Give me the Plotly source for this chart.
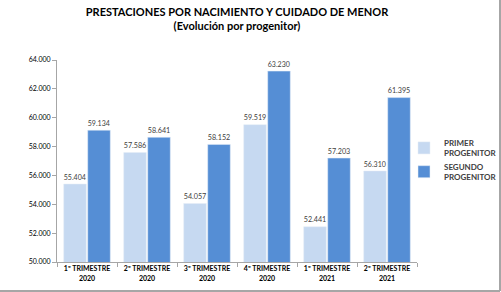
import plotly.graph_objects as go

categorias = ["1º TRIMESTRE<br>2020", "2º TRIMESTRE<br>2020", "3º TRIMESTRE<br>2020",
              "4º TRIMESTRE<br>2020", "1º TRIMESTRE<br>2021", "2º TRIMESTRE<br>2021"]
primer = [55404, 57586, 54057, 59519, 52441, 56310]
segundo = [59134, 58641, 58152, 63230, 57203, 61395]
y_ticks = [50000, 52000, 54000, 56000, 58000, 60000, 62000, 64000]

FONT = "Lato, 'Open Sans', sans-serif"
L, R, T, B = 57, 84, 60, 30
W, H = 501, 292
pw, ph = W - L - R, H - T - B

fig = go.Figure()
fig.add_trace(go.Bar(
    x=categorias, y=primer, name="<b>PRIMER<br>PROGENITOR</b>",
    marker_color="#c6d9f1", texttemplate="%{y:,d}", textposition="outside",
    textfont=dict(size=11, color="#404040", family=FONT), cliponaxis=False,
))
fig.add_trace(go.Bar(
    x=categorias, y=segundo, name="<b>SEGUNDO<br>PROGENITOR</b>",
    marker_color="#558ed5", texttemplate="%{y:,d}", textposition="outside",
    textfont=dict(size=11, color="#404040", family=FONT), cliponaxis=False,
))

fig.update_layout(
    width=W, height=H,
    margin=dict(l=L, r=R, t=T, b=B, autoexpand=False),
    paper_bgcolor="white", plot_bgcolor="white",
    separators=",.",
    barmode="group", bargap=0.2, bargroupgap=0.06,
    font=dict(family=FONT, color="#404040"),
    title=dict(
        text="<b>PRESTACIONES POR NACIMIENTO Y CUIDADO DE MENOR<br>(Evolución por progenitor)</b>",
        x=0.5, xref="paper", xanchor="center",
        yref="container", y=(H - 16) / H, yanchor="middle",
        font=dict(size=11, color="#000000", family=FONT),
    ),
    legend=dict(
        x=(404 - L) / pw, y=(T + ph - 160) / ph, xanchor="left", yanchor="middle",
        font=dict(size=8, color="#404040", family=FONT),
        itemwidth=30, tracegroupgap=3, bgcolor="rgba(0,0,0,0)",
    ),
    showlegend=True,
)

fig.update_xaxes(
    showline=True, linecolor="#a6a6a6", linewidth=1,
    ticks="outside", tickson="boundaries", ticklen=4, tickcolor="#a6a6a6",
    tickfont=dict(size=7, color="#000000", family=FONT),
    tickprefix="<b>", ticksuffix="</b>",
    showgrid=False,
)
fig.update_yaxes(
    range=[50000, 64000], tickvals=y_ticks, tickformat=",d",
    showline=True, linecolor="#a6a6a6", linewidth=1,
    ticks="outside", ticklen=4, tickcolor="#a6a6a6",
    tickfont=dict(size=7, color="#000000", family=FONT),
    tickprefix="<b>", ticksuffix="</b>",
    showgrid=False, zeroline=False,
)

# grey frame at right and bottom edges
xr = (W - 1 - L) / pw
yb = -(H - 1 - (T + ph)) / ph
fig.add_shape(type="line", xref="paper", yref="paper", x0=-L / pw, x1=xr, y0=yb, y1=yb,
              line=dict(color="#a6a6a6", width=2))
fig.add_shape(type="line", xref="paper", yref="paper", x0=xr, x1=xr, y0=yb, y1=(T + ph) / ph,
              line=dict(color="#a6a6a6", width=2))

fig.write_html("out.html")
